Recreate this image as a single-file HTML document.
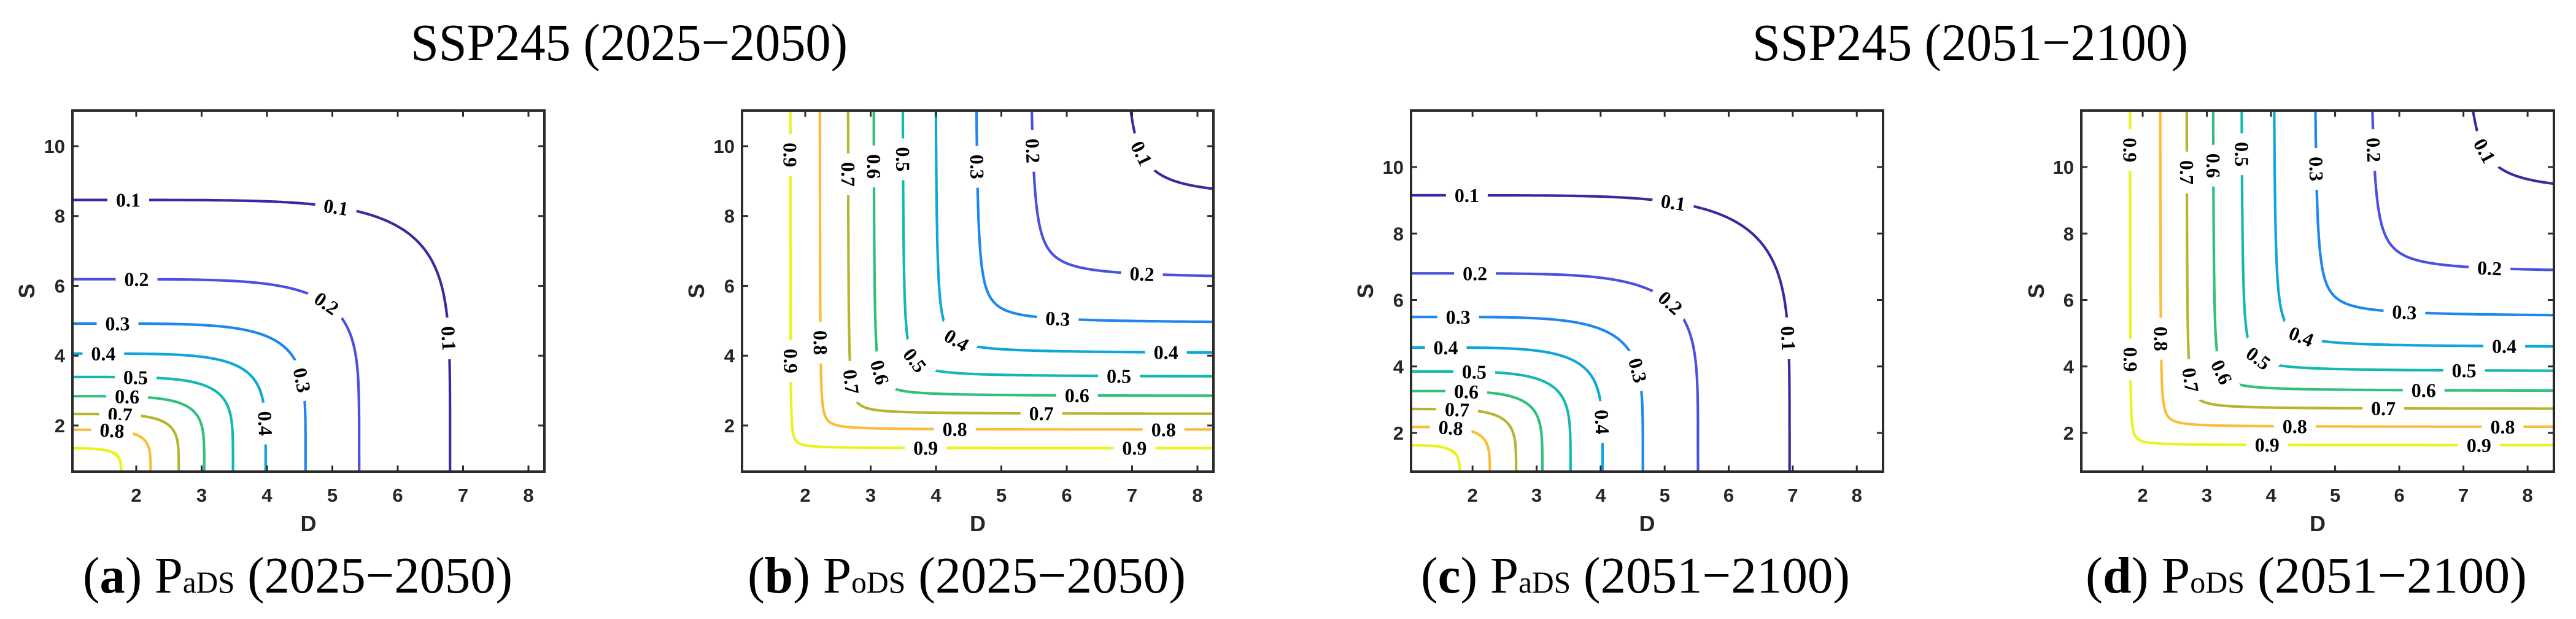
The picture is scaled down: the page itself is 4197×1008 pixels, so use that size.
<!DOCTYPE html>
<html>
<head>
<meta charset="utf-8">
<style>
html,body{margin:0;padding:0;background:#fff;}
svg{display:block;}
.tick{font-family:"Liberation Sans",Arial,sans-serif;font-weight:bold;font-size:31px;fill:#262626;}
.axl{font-family:"Liberation Sans",Arial,sans-serif;font-weight:bold;font-size:36px;fill:#262626;}
.clab{font-family:"Liberation Serif","Times New Roman",serif;font-weight:bold;font-size:32px;fill:#000;}
.ttl{font-family:"Liberation Serif","Times New Roman",serif;font-size:86px;fill:#000;}
.cap{font-family:"Liberation Serif","Times New Roman",serif;font-size:84px;fill:#000;}
</style>
</head>
<body>
<svg id="fig" width="4197" height="1008" viewBox="0 0 4197 1008" xmlns="http://www.w3.org/2000/svg">
  <text class="ttl" x="669" y="98" textLength="712" lengthAdjust="spacingAndGlyphs">SSP245 (2025−2050)</text>
  <text class="ttl" x="2855" y="98" textLength="710" lengthAdjust="spacingAndGlyphs">SSP245 (2051−2100)</text>

  <text class="cap" x="135" y="965" textLength="700" lengthAdjust="spacingAndGlyphs">(<tspan font-weight="bold">a</tspan>) P<tspan font-size="50">aDS</tspan> (2025−2050)</text>
  <text class="cap" x="1218" y="965" textLength="714" lengthAdjust="spacingAndGlyphs">(<tspan font-weight="bold">b</tspan>) P<tspan font-size="50">oDS</tspan> (2025−2050)</text>
  <text class="cap" x="2315" y="965" textLength="699" lengthAdjust="spacingAndGlyphs">(<tspan font-weight="bold">c</tspan>) P<tspan font-size="50">aDS</tspan> (2051−2100)</text>
  <text class="cap" x="3398" y="965" textLength="719" lengthAdjust="spacingAndGlyphs">(<tspan font-weight="bold">d</tspan>) P<tspan font-size="50">oDS</tspan> (2051−2100)</text>
</svg>
<script>
// ---- data ----
const levels = [0.1,0.2,0.3,0.4,0.5,0.6,0.7,0.8,0.9];
const levelColors = ['#3b2a9f','#4851e0','#1f86f0','#0da7d8','#13b9b1','#30c07c','#b5b52f','#fcbc3b','#eef21c'];
// early period (2025-2050): asymptotes of each contour
const earlyCornerD = [6.80,5.41,4.59,3.98,3.48,3.04,2.65,2.22,1.77];
const earlyCornerS = [8.46,6.19,4.92,4.06,3.39,2.84,2.33,1.88,1.35];
// late period (2051-2100)
const lateCornerD = [6.95,5.52,4.66,4.03,3.53,3.09,2.68,2.27,1.80];
const lateCornerS = [9.15,6.80,5.49,4.57,3.85,3.26,2.72,2.18,1.63];
const xTicks = [2,3,4,5,6,7,8];
const yTicks = [2,4,6,8,10];
// label anchors: [level index, 'x'|'y', value]
const labelsA = [[0,'x',1.85],[0,'x',5.05],[0,'y',4.5],[1,'x',1.99],[1,'y',5.5],[2,'x',1.73],[2,'y',3.3],[3,'x',1.49],[3,'y',2.05],[4,'x',1.99],[5,'x',1.86],[6,'x',1.75],[7,'x',1.63]];
const labelsB = [[8,'y',9.77],[8,'y',3.87],[8,'x',3.82],[8,'x',7.01],[7,'y',4.37],[7,'x',4.30],[7,'x',7.49],[6,'y',9.2],[6,'y',3.25],[6,'x',5.6],[5,'y',9.48],[5,'y',3.53],[5,'x',6.18],[4,'y',9.6],[4,'y',3.87],[4,'x',6.82],[3,'y',4.45],[3,'x',7.49],[2,'y',9.37],[2,'x',5.86],[1,'y',9.88],[1,'x',7.14],[0,'y',9.8]];
const labelsC = [[0,'x',1.87],[0,'x',5.13],[0,'y',4.84],[1,'x',2.03],[1,'y',5.92],[2,'x',1.76],[2,'y',3.88],[3,'x',1.59],[3,'y',2.33],[4,'x',2.03],[5,'x',1.9],[6,'x',1.76],[7,'x',1.66]];
const labelsD = [[8,'y',10.5],[8,'y',4.18],[8,'x',3.93],[8,'x',7.19],[7,'y',4.84],[7,'x',4.37],[7,'x',7.64],[6,'y',9.85],[6,'y',3.59],[6,'x',5.78],[5,'y',10.07],[5,'y',3.83],[5,'x',6.39],[4,'y',10.38],[4,'y',4.25],[4,'x',7.04],[3,'y',4.9],[3,'x',7.64],[2,'y',9.96],[2,'x',6.07],[1,'y',10.5],[1,'x',7.39],[0,'y',10.5]];

// ---- layout ----
const panels = [
  {id:'a',kind:'and',L:118,R:887,T:180,B:768,xmin:1.024,xmax:8.244,ymin:0.68,ymax:11.02,cx:earlyCornerD,cy:earlyCornerS,labels:labelsA,sLabelX:43},
  {id:'b',kind:'or',L:1209,R:1977,T:180,B:768,xmin:1.033,xmax:8.244,ymin:0.68,ymax:11.02,cx:earlyCornerD,cy:earlyCornerS,labels:labelsB,sLabelX:1134},
  {id:'c',kind:'and',L:2299,R:3068,T:180,B:768,xmin:1.04,xmax:8.41,ymin:0.836,ymax:11.70,cx:lateCornerD,cy:lateCornerS,labels:labelsC,sLabelX:2224},
  {id:'d',kind:'or',L:3391,R:4161,T:180,B:768,xmin:1.043,xmax:8.41,ymin:0.836,ymax:11.70,cx:lateCornerD,cy:lateCornerS,labels:labelsD,sLabelX:3317}
];
const NS='http://www.w3.org/2000/svg';
const svg=document.getElementById('fig');
function mk(tag,attrs,parent){const e=document.createElementNS(NS,tag);for(const k in attrs)e.setAttribute(k,attrs[k]);(parent||svg).appendChild(e);return e;}

function curvePoints(p,k){
  const a=p.cx[k], b=p.cy[k], pts=[];
  if(p.kind==='and'){
    const x0=0.5,y0=0.3,rx=a-x0,ry=b-y0,pw=6;
    for(let i=0;i<=600;i++){const th=(Math.PI/2)*i/600;
      pts.push([x0+rx*Math.pow(Math.cos(th),2/pw), y0+ry*Math.pow(Math.sin(th),2/pw)]);}
  } else {
    const c=0.008*a*b, r=Math.sqrt(c);
    for(let i=0;i<=600;i++){const s=-7+14*i/600;
      pts.push([a+r*Math.exp(s), b+r*Math.exp(-s)]);}
  }
  return pts;
}

panels.forEach(p=>{
  const X=v=>p.L+(v-p.xmin)/(p.xmax-p.xmin)*(p.R-p.L);
  const Y=v=>p.B-(v-p.ymin)/(p.ymax-p.ymin)*(p.B-p.T);
  const g=mk('g',{});
  
  
  const cp=mk('clipPath',{id:'clip-'+p.id},g);
  mk('rect',{x:p.L,y:p.T,width:p.R-p.L,height:p.B-p.T},cp);
  const cg=mk('g',{'clip-path':'url(#clip-'+p.id+')'},g);
  const curves=[];
  levels.forEach((lv,k)=>{
    const pts=curvePoints(p,k);curves.push(pts);
    const d=pts.map((q,i)=>(i?'L':'M')+X(q[0]).toFixed(1)+' '+Y(q[1]).toFixed(1)).join(' ');
    const path=mk('path',{d:d,fill:'none',stroke:levelColors[k],'stroke-width':4.2},cg);
    
    
  });
  p.labels.forEach(lb=>{
    const k=lb[0],pts=curves[k];let bi=0,bd=1e9;
    pts.forEach((q,i)=>{const dd=Math.abs((lb[1]==='x'?q[0]:q[1])-lb[2]);if(dd<bd){bd=dd;bi=i;}});
    const q=pts[bi],q1=pts[Math.max(0,bi-3)],q2=pts[Math.min(pts.length-1,bi+3)];
    let ang=Math.atan2(-(Y(q2[1])-Y(q1[1])),X(q2[0])-X(q1[0]))*180/Math.PI;
    ang=-ang; while(ang>90)ang-=180; while(ang<=-90)ang+=180;
    const px=X(q[0]),py=Y(q[1]);
    const lg=mk('g',{transform:'translate('+px.toFixed(1)+','+py.toFixed(1)+') rotate('+ang.toFixed(1)+')'},cg);
    
    
    mk('rect',{x:-34,y:-18,width:68,height:36,fill:'#fff'},lg);
    const t=mk('text',{class:'clab',x:0,y:11,'text-anchor':'middle'},lg);
    t.textContent=levels[k].toFixed(1);
  });
  xTicks.forEach(v=>{
    const x=X(v);
    mk('line',{x1:x,x2:x,y1:p.B,y2:p.B-10,stroke:'#2b2b2b','stroke-width':3},g);
    mk('line',{x1:x,x2:x,y1:p.T,y2:p.T+10,stroke:'#2b2b2b','stroke-width':3},g);
    const t=mk('text',{class:'tick',x:x,y:817,'text-anchor':'middle'},g);
    
    
    t.textContent=v;
  });
  yTicks.forEach(v=>{
    const y=Y(v);
    mk('line',{x1:p.L,x2:p.L+10,y1:y,y2:y,stroke:'#2b2b2b','stroke-width':3},g);
    mk('line',{x1:p.R,x2:p.R-10,y1:y,y2:y,stroke:'#2b2b2b','stroke-width':3},g);
    const t=mk('text',{class:'tick',x:p.L-12,y:y+11,'text-anchor':'end'},g);
    
    
    t.textContent=v;
  });
  const box=mk('rect',{x:p.L,y:p.T,width:p.R-p.L,height:p.B-p.T,fill:'none',stroke:'#2b2b2b','stroke-width':4},g);
  
  
  const xl=mk('text',{class:'axl',x:(p.L+p.R)/2,y:865,'text-anchor':'middle'},g);
  
  
  xl.textContent='D';
  const yl=mk('text',{class:'axl',x:0,y:0,'text-anchor':'middle',transform:'translate('+(p.sLabelX+13)+',474) rotate(-90)'},g);
  
  
  yl.textContent='S';
});
</script>
</body>
</html>
